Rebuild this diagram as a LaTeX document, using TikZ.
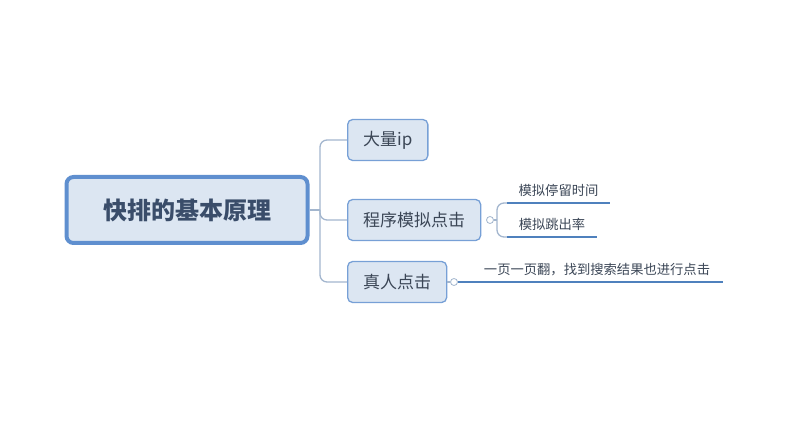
\documentclass[tikz,border=0pt]{standalone}
\usepackage{fontspec}
\setmainfont{Noto Sans CJK SC}
\usetikzlibrary{positioning}
\definecolor{boxfill}{HTML}{DCE6F2}
\definecolor{boxline}{HTML}{5F8FCF}
\definecolor{linkgray}{HTML}{A3B6CE}
\definecolor{txtdark}{HTML}{3B4656}
\definecolor{roottxt}{HTML}{3A4D6A}
\definecolor{underblue}{HTML}{4F81BD}
\begin{document}
\begin{tikzpicture}[x=1pt,y=-1pt, every node/.style={text=txtdark},
  rootbox/.style={draw=boxline,line width=4pt,fill=boxfill,rounded corners=7pt,minimum width=241pt,minimum height=66pt,font=\fontsize{24}{28}\selectfont\bfseries,text=roottxt},
  subbox/.style={draw=boxline!85,line width=1.3pt,fill=boxfill,rounded corners=5pt,minimum height=41pt,inner xsep=15.5pt,font=\fontsize{17}{20}\selectfont},
  leaf/.style={anchor=south,inner sep=0pt,text height=10pt,text depth=7pt,font=\fontsize{13.3}{16}\selectfont},
  toggle/.style={draw=linkgray,fill=white,circle,line width=0.8pt,inner sep=0pt,minimum size=7pt},
  conn/.style={draw=linkgray,line width=1.3pt,rounded corners=7pt},
  uline/.style={draw=underblue,line width=2.4pt}]
\useasboundingbox (0,0) rectangle (800,438);
\node[rootbox] (root) at (187,210) {快排的基本原理};
\node[subbox,anchor=west] (ip) at (347,140) {大量ip};
\node[subbox,anchor=west] (prog) at (347,220) {程序模拟点击};
\node[subbox,anchor=west] (human) at (347,282) {真人点击};
\coordinate (fork) at (320,210);
\draw[conn] (root.east) -- (fork);
\draw[conn] (fork) |- (ip.west);
\draw[conn] (fork) |- (prog.west);
\draw[conn] (fork) |- (human.west);
% program branch
\node[toggle] (pt) at (490,220) {};
\node[leaf,minimum width=103pt] (stay) at (558.5,203) {模拟停留时间};
\node[leaf,minimum width=90pt] (bounce) at (552,237) {模拟跳出率};
\coordinate (pfork) at (497,220);
\draw[conn] (pt.east) -- (pfork);
\draw[conn] (pfork) |- (stay.south west);
\draw[conn] (pfork) |- (bounce.south west);
\draw[uline] (stay.south west) -- (stay.south east);
\draw[uline] (bounce.south west) -- (bounce.south east);
% real click branch
\node[toggle] (ht) at (454,282) {};
\node[leaf,minimum width=252pt] (page) at (597,282) {一页一页翻，找到搜索结果也进行点击};
\draw[conn] (human.east) -- (ht.west);
\draw[uline] (ht.east) -- (page.south east);
\end{tikzpicture}
\end{document}
